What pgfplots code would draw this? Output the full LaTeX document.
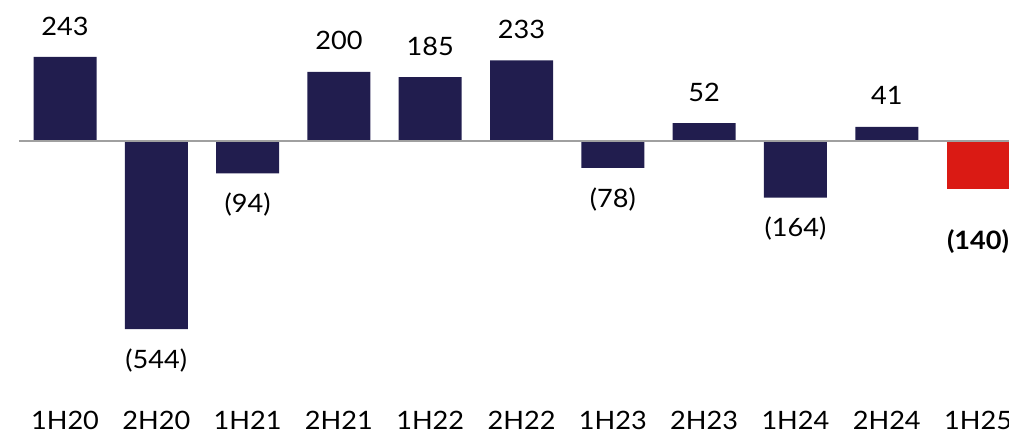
\documentclass[border=0pt]{standalone}
\usepackage{pgfplots}
\pgfplotsset{compat=1.18}
\usepackage{fontspec}
\setmainfont{Lato}[FakeStretch=1.07]
\definecolor{navy}{HTML}{211D4E}
\definecolor{ubsred}{HTML}{DA1A14}
\definecolor{zerogray}{HTML}{A0A0A0}
\begin{document}
\begin{tikzpicture}
\begin{axis}[
  scale only axis,
  width=756.75pt, height=323.25pt,
  xmin=-0.712, xmax=10.339,
  ymin=-838.9, ymax=407.9,
  axis line style={draw=none},
  tick style={draw=none},
  ytick=\empty,
  xtick={0,1,2,3,4,5,6,7,8,9,10},
  xticklabels={1H20,2H20,1H21,2H21,1H22,2H22,1H23,2H23,1H24,2H24,1H25},
  xticklabel style={anchor=center, inner sep=0pt, yshift=12pt, font=\fontsize{19}{22}\selectfont},
  ybar, bar width=0.69, bar shift=0pt,
  clip=false,
  nodes near coords,
  point meta=explicit symbolic,
]
\addplot[fill=navy, draw=none,
  nodes near coords style={anchor=center, yshift=23.25pt, font=\fontsize{19}{22}\selectfont, text=black}]
  coordinates {(0,243)[243] (3,200)[200] (4,185)[185] (5,233)[233] (7,52)[52] (9,41)[41]};
\addplot[fill=navy, draw=none,
  nodes near coords style={anchor=center, yshift=-23.5pt, font=\fontsize{19}{22}\selectfont, text=black}]
  coordinates {(1,-544)[(544)] (2,-94)[(94)] (6,-78)[(78)] (8,-164)[(164)]};
\addplot[fill=ubsred, draw=none,
  nodes near coords style={anchor=center, yshift=-39pt, font=\fontsize{19}{22}\bfseries\selectfont, text=black}]
  coordinates {(10,-140)[(140)]};
\addplot[sharp plot, zerogray, line width=1.5pt, nodes near coords={}] coordinates {(-0.504,0) (10.34,0)};
\end{axis}
\pgfresetboundingbox
\useasboundingbox (current axis.south west) rectangle (current axis.north east);
\end{tikzpicture}
\end{document}
